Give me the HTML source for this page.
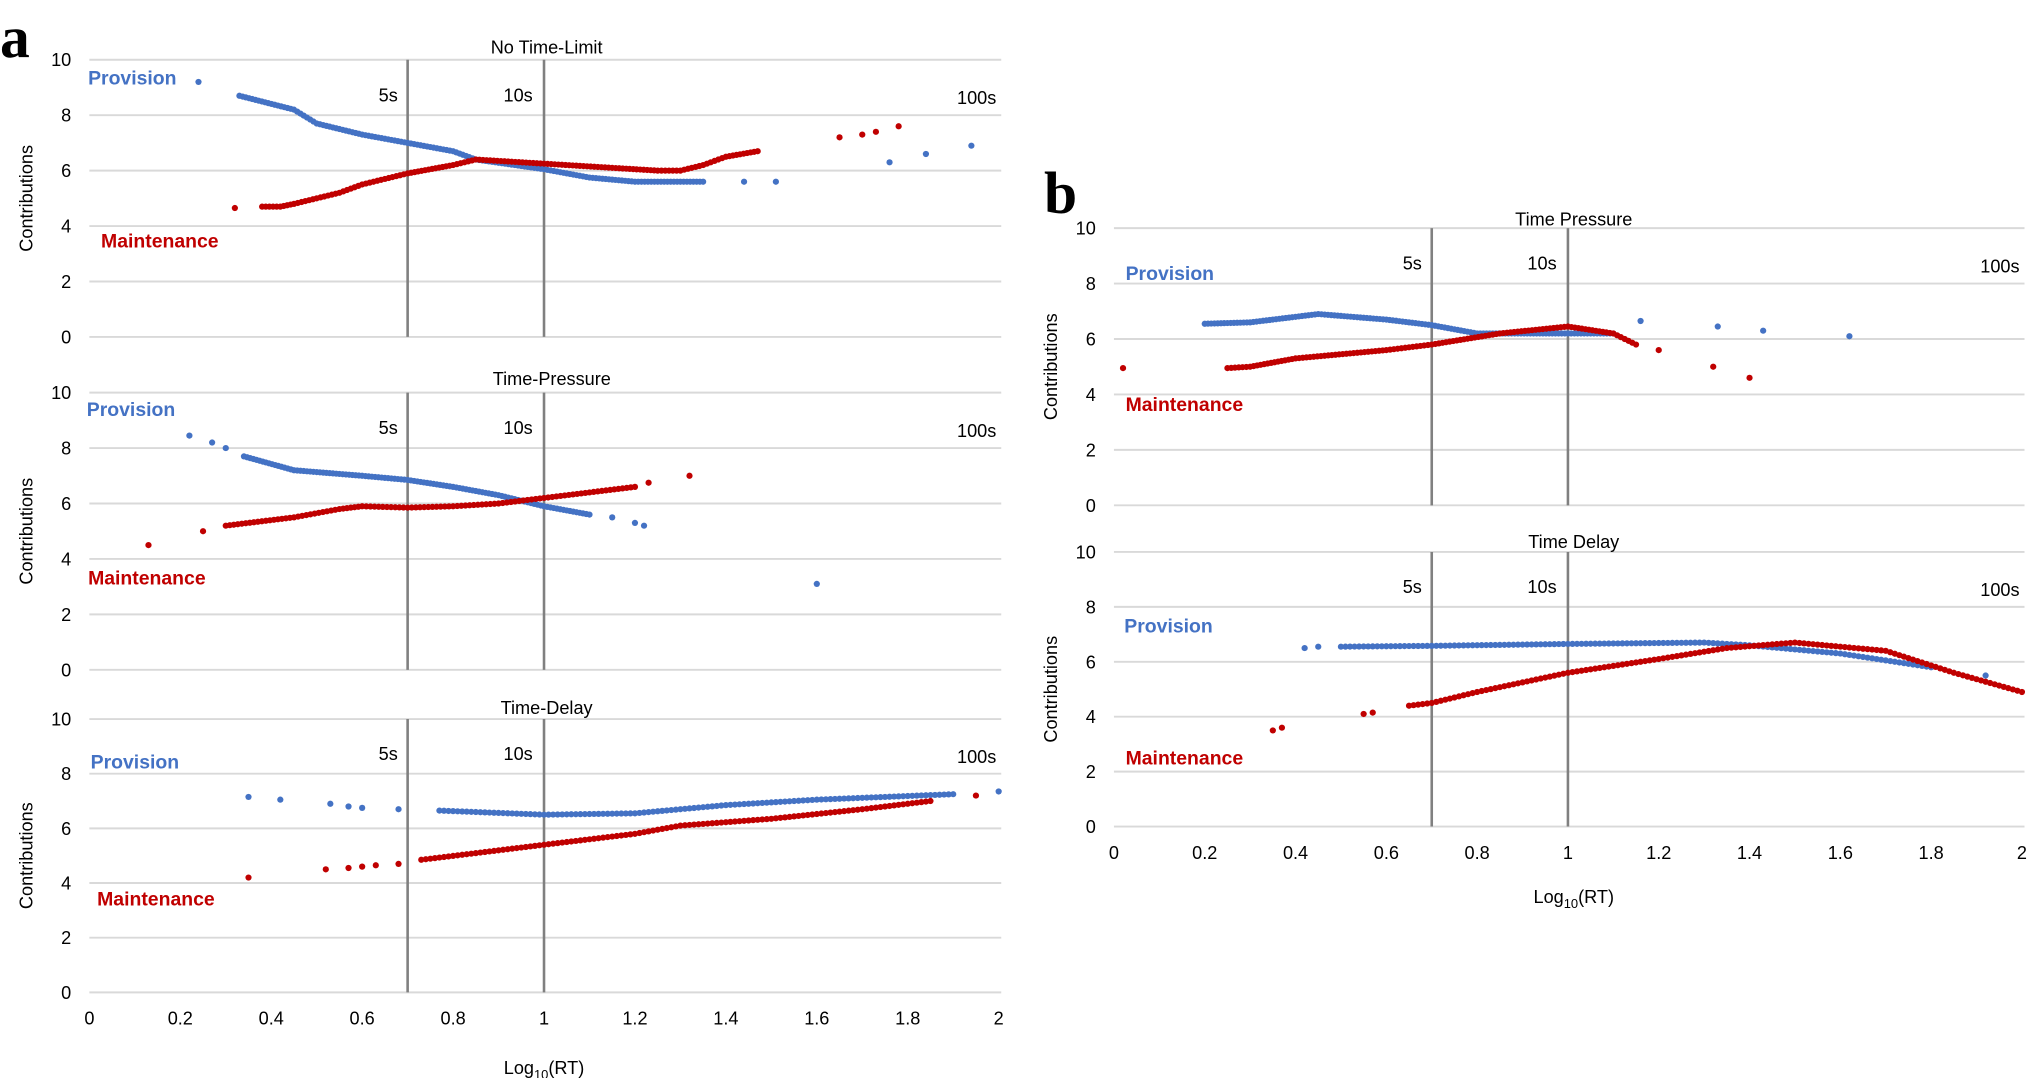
<!DOCTYPE html>
<html><head><meta charset="utf-8"><style>
html,body{margin:0;padding:0;background:#fff;}
svg{display:block;}
text{font-family:"Liberation Sans",Arial,sans-serif;}
text.lt{font-family:"Liberation Serif","DejaVu Serif",serif;}
</style></head><body>
<svg id="s" width="2031" height="1078" viewBox="0 0 1568 832" xmlns="http://www.w3.org/2000/svg"></svg>
<script>
const S=document.getElementById('s');let h='';
const BLUE='#4472C4',RED='#C00000';
function chart(x0,x1,yTop,yBot,title,tx,ty,showX,lab){
  const xs=v=>x0+v*(x1-x0)/2, ys=v=>yBot-v*(yBot-yTop)/10;
  for(let g=0;g<=10;g+=2){h+=`<line x1="${x0}" x2="${x1+2}" y1="${ys(g)}" y2="${ys(g)}" stroke="#d9d9d9" stroke-width="1.5"/>`;
    h+=`<text x="${x0-14}" y="${ys(g)+5}" font-size="14" text-anchor="end">${g}</text>`;}
  [0.7,1].forEach(v=>h+=`<line x1="${xs(v)}" x2="${xs(v)}" y1="${yTop}" y2="${yBot}" stroke="#808080" stroke-width="2"/>`);
  h+=`<text x="${tx}" y="${ty}" font-size="14" text-anchor="middle">${title}</text>`;
  h+=`<text transform="translate(${x0-44},${(yTop+yBot)/2}) rotate(-90)" font-size="14" text-anchor="middle">Contributions</text>`;
  h+=`<text x="${xs(0.7)-15}" y="${ys(8.5)}" font-size="14" text-anchor="middle">5s</text>`;
  h+=`<text x="${xs(1)-20}" y="${ys(8.5)}" font-size="14" text-anchor="middle">10s</text>`;
  h+=`<text x="${x1-17}" y="${ys(8.4)}" font-size="14" text-anchor="middle">100s</text>`;
  h+=`<text x="${lab[0]}" y="${lab[1]}" font-size="15" font-weight="bold" fill="${BLUE}">Provision</text>`;
  h+=`<text x="${lab[2]}" y="${lab[3]}" font-size="15" font-weight="bold" fill="${RED}">Maintenance</text>`;
  if(showX){for(let i=0;i<=10;i++){const v=i*0.2;h+=`<text x="${xs(v)}" y="${yBot+25}" font-size="14" text-anchor="middle">${i==0?0:i==5?1:i==10?2:v.toFixed(1)}</text>`;}}
  return {xs,ys};
}
function dots(c,col,single,curve,step){
  single.forEach(p=>h+=`<circle cx="${c.xs(p[0])}" cy="${c.ys(p[1])}" r="2.4" fill="${col}"/>`);
  if(curve){for(let i=0;i<curve.length-1;i++){const a=curve[i],b=curve[i+1];const n=Math.max(1,Math.round((b[0]-a[0])/step));
    for(let k=0;k<n;k++){const t=k/n;h+=`<circle cx="${c.xs(a[0]+(b[0]-a[0])*t)}" cy="${c.ys(a[1]+(b[1]-a[1])*t)}" r="2.4" fill="${col}"/>`;}}
    const l=curve[curve.length-1];h+=`<circle cx="${c.xs(l[0])}" cy="${c.ys(l[1])}" r="2.4" fill="${col}"/>`;}
}
let c=chart(69,771,46,260,'No Time-Limit',422,41,false,[68,65,78,191]);
dots(c,BLUE,[[0.24,9.2],[1.44,5.6],[1.51,5.6],[1.76,6.3],[1.84,6.6],[1.94,6.9]],[[0.33,8.7],[0.45,8.2],[0.5,7.7],[0.6,7.3],[0.7,7.0],[0.8,6.7],[0.85,6.4],[1.0,6.05],[1.1,5.75],[1.2,5.6],[1.35,5.6]],0.007);
dots(c,RED,[[0.32,4.65],[1.65,7.2],[1.7,7.3],[1.73,7.4],[1.78,7.6]],[[0.38,4.7],[0.42,4.7],[0.45,4.8],[0.5,5.0],[0.55,5.2],[0.6,5.5],[0.7,5.9],[0.8,6.2],[0.85,6.4],[1.0,6.25],[1.15,6.1],[1.25,6.0],[1.3,6.0],[1.35,6.2],[1.4,6.5],[1.47,6.7]],0.008);
c=chart(69,771,303,517,'Time-Pressure',426,297,false,[67,321,68,451]);
dots(c,BLUE,[[0.22,8.45],[0.27,8.2],[0.3,8.0],[1.15,5.5],[1.2,5.3],[1.22,5.2],[1.6,3.1]],[[0.34,7.7],[0.45,7.2],[0.6,7.0],[0.7,6.85],[0.8,6.6],[0.9,6.3],[1.0,5.9],[1.1,5.6]],0.007);
dots(c,RED,[[0.13,4.5],[0.25,5.0],[1.23,6.75],[1.32,7.0]],[[0.3,5.2],[0.45,5.5],[0.55,5.8],[0.6,5.9],[0.7,5.85],[0.8,5.9],[0.9,6.0],[1.0,6.2],[1.1,6.4],[1.2,6.6]],0.009);
c=chart(69,771,555,766,'Time-Delay',422,551,true,[70,593,75,699]);
dots(c,BLUE,[[0.35,7.15],[0.42,7.05],[0.53,6.9],[0.57,6.8],[0.6,6.75],[0.68,6.7],[2.0,7.35]],[[0.77,6.65],[1.0,6.5],[1.2,6.55],[1.4,6.85],[1.6,7.05],[1.9,7.25]],0.01);
dots(c,RED,[[0.35,4.2],[0.52,4.5],[0.57,4.55],[0.6,4.6],[0.63,4.65],[0.68,4.7],[1.95,7.2]],[[0.73,4.85],[1.0,5.4],[1.2,5.8],[1.3,6.1],[1.5,6.35],[1.7,6.7],[1.85,7.0]],0.01);
h+=`<text x="420" y="829" font-size="14" text-anchor="middle">Log<tspan font-size="10" dy="4">10</tspan><tspan dy="-4">(RT)</tspan></text>`;
h+=`<text class="lt" x="0" y="44" font-size="46" font-weight="bold">a</text>`;
c=chart(860,1561,176,390,'Time Pressure',1215,174,false,[869,216,869,317]);
dots(c,BLUE,[[1.16,6.65],[1.33,6.45],[1.43,6.3],[1.62,6.1]],[[0.2,6.55],[0.3,6.6],[0.45,6.9],[0.6,6.7],[0.7,6.5],[0.8,6.2],[1.0,6.2],[1.1,6.2]],0.007);
dots(c,RED,[[0.02,4.95],[1.2,5.6],[1.32,5.0],[1.4,4.6]],[[0.25,4.95],[0.3,5.0],[0.4,5.3],[0.6,5.6],[0.7,5.8],[0.85,6.2],[1.0,6.45],[1.1,6.2],[1.15,5.8]],0.008);
c=chart(860,1561,426,638,'Time Delay',1215,423,true,[868,488,869,590]);
dots(c,BLUE,[[0.42,6.5],[0.45,6.55],[1.92,5.5]],[[0.5,6.55],[0.7,6.58],[1.0,6.65],[1.3,6.7],[1.4,6.6],[1.6,6.3],[1.8,5.8]],0.01);
dots(c,RED,[[0.35,3.5],[0.37,3.6],[0.55,4.1],[0.57,4.15]],[[0.65,4.4],[0.7,4.5],[0.8,4.9],[1.0,5.6],[1.2,6.1],[1.35,6.5],[1.5,6.7],[1.7,6.4],[1.85,5.6],[2.0,4.9]],0.01);
h+=`<text x="1215" y="697" font-size="14" text-anchor="middle">Log<tspan font-size="10" dy="4">10</tspan><tspan dy="-4">(RT)</tspan></text>`;
h+=`<text class="lt" x="806" y="164" font-size="46" font-weight="bold">b</text>`;
S.innerHTML=h;
</script>
</body></html>
